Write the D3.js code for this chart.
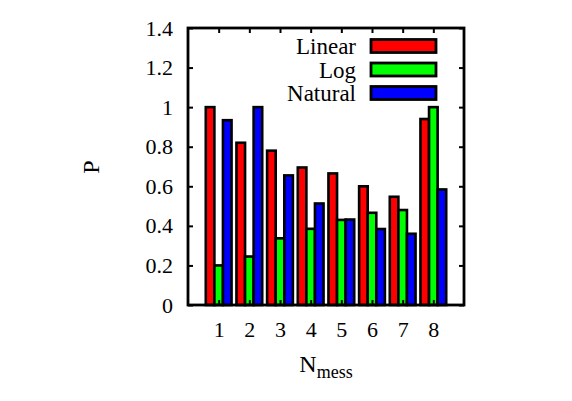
<!DOCTYPE html>
<html>
<head>
<meta charset="utf-8">
<script src="https://cdn.jsdelivr.net/npm/d3@7"></script>
<style>
body { margin: 0; background: #fff; }
text { font-family: "Liberation Serif", "Times New Roman", serif; fill: #000; }
</style>
</head>
<body>
<div id="chart"></div>
<script>
var categories = [1, 2, 3, 4, 5, 6, 7, 8];
var seriesNames = ["Linear", "Log", "Natural"];
var linearVals = [1.0, 0.82, 0.78, 0.695, 0.665, 0.60, 0.547, 0.94];
var logVals = [0.2, 0.245, 0.337, 0.385, 0.43, 0.466, 0.48, 1.0];
var naturalVals = [0.934, 1.0, 0.655, 0.513, 0.432, 0.384, 0.36, 0.584];
var yTicks = [0, 0.2, 0.4, 0.6, 0.8, 1, 1.2, 1.4];
var colors = ["#ff0000", "#00ff00", "#0000ff"];

var W = 572, H = 401;
var pLeft = 188, pRight = 464, pTop = 28, pBottom = 305;

var svg = d3.select("#chart").append("svg").attr("width", W).attr("height", H);

var x = d3.scaleLinear().domain([0, 9]).range([pLeft, pRight]);
var y = d3.scaleLinear().domain([0, 1.4]).range([pBottom, pTop]);

var series = [linearVals, logVals, naturalVals];
var barW = 0.28;

// bars
series.forEach(function(vals, k){
	svg.append("g").selectAll("rect")
	.data(vals).enter()
	.append("rect")
	.attr("x", function(d, i){ return x(categories[i] - 0.42 + k * barW); })
	.attr("y", function(d){ return y(d); })
	.attr("width", x(barW) - x(0))
	.attr("height", function(d){ return y(0) - y(d); })
	.attr("fill", colors[k])
	.attr("stroke", "#000")
	.attr("stroke-width", 2.6);
});

// axes, ticks inward and mirrored
var yl = d3.axisLeft(y).tickValues(yTicks).tickSize(-5).tickPadding(15)
	.tickFormat(function(d){ return d3.format("~g")(d); });
svg.append("g").attr("transform", "translate(" + pLeft + ",0)").call(yl)
	.call(function(g){
		g.select(".domain").remove();
		g.selectAll("line").attr("stroke-width", 2);
		g.selectAll("text").style("font-size", "22px").style("font-family", "Liberation Serif");
	});
svg.append("g").attr("transform", "translate(" + pRight + ",0)")
	.call(d3.axisRight(y).tickValues(yTicks).tickSize(-5).tickFormat(""))
	.call(function(g){ g.select(".domain").remove(); g.selectAll("line").attr("stroke-width", 2); });

svg.append("g").attr("transform", "translate(0," + pBottom + ")")
	.call(d3.axisBottom(x).tickValues(categories).tickSize(-5).tickPadding(16).tickFormat(d3.format("d")))
	.call(function(g){
		g.select(".domain").remove();
		g.selectAll("line").attr("stroke-width", 2);
		g.selectAll("text").style("font-size", "22px").style("font-family", "Liberation Serif");
	});
svg.append("g").attr("transform", "translate(0," + pTop + ")")
	.call(d3.axisTop(x).tickValues(categories).tickSize(-5).tickFormat(""))
	.call(function(g){ g.select(".domain").remove(); g.selectAll("line").attr("stroke-width", 2); });

// frame
svg.append("rect")
	.attr("x", pLeft).attr("y", pTop)
	.attr("width", pRight - pLeft).attr("height", pBottom - pTop)
	.attr("fill", "none").attr("stroke", "#000").attr("stroke-width", 2.8);

// legend
var legend = svg.append("g").selectAll("g")
	.data(seriesNames).enter()
	.append("g")
	.attr("transform", function(d, i){ return "translate(0," + (46 + i * 23.5) + ")"; });
legend.append("text")
	.attr("x", 356).attr("y", 0).attr("dy", "0.35em")
	.attr("text-anchor", "end")
	.style("font-size", "23px")
	.text(function(d){ return d; });
legend.append("rect")
	.attr("x", 371).attr("y", -6.5)
	.attr("width", 65).attr("height", 13)
	.attr("fill", function(d, i){ return colors[i]; })
	.attr("stroke", "#000").attr("stroke-width", 2.8);

// axis titles
svg.append("text")
	.attr("transform", "translate(99,167) rotate(-90)")
	.attr("text-anchor", "middle")
	.style("font-size", "24px")
	.text("P");

var xt = svg.append("text")
	.attr("x", 326).attr("y", 372)
	.attr("text-anchor", "middle")
	.style("font-size", "24px");
xt.append("tspan").text("N");
xt.append("tspan").attr("dy", 6).style("font-size", "18px").text("mess");
</script>
</body>
</html>
